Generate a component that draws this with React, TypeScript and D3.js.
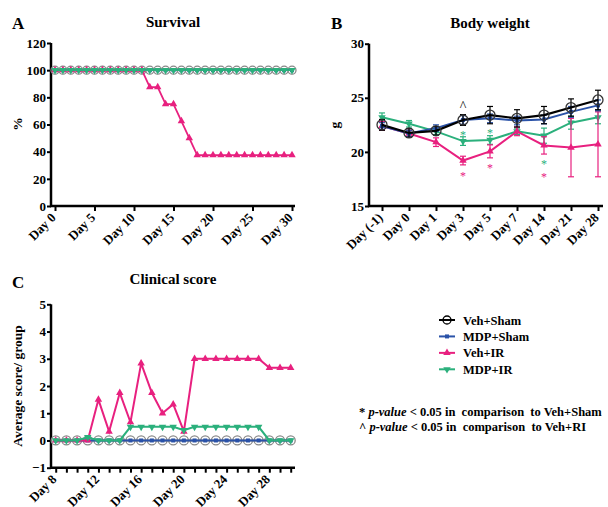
import React, { useEffect, useRef } from "react";
import * as d3 from "d3";

// ---- data ----
const seriesNames = ["Veh+Sham", "MDP+Sham", "Veh+IR", "MDP+IR"];
const seriesColors = ["#000000", "#2a52a8", "#e8207f", "#2bb07c"];
const seriesMarkers = ["circle", "square", "up", "down"];

// A: survival (%)
const survivalDays = [0, 1, 2, 3, 4, 5, 6, 7, 8, 9, 10, 11, 12, 13, 14, 15, 16, 17, 18, 19, 20, 21, 22, 23, 24, 25, 26, 27, 28, 29, 30];
const survivalVehSham = [100, 100, 100, 100, 100, 100, 100, 100, 100, 100, 100, 100, 100, 100, 100, 100, 100, 100, 100, 100, 100, 100, 100, 100, 100, 100, 100, 100, 100, 100, 100];
const survivalMdpSham = [100, 100, 100, 100, 100, 100, 100, 100, 100, 100, 100, 100, 100, 100, 100, 100, 100, 100, 100, 100, 100, 100, 100, 100, 100, 100, 100, 100, 100, 100, 100];
const survivalVehIR = [100, 100, 100, 100, 100, 100, 100, 100, 100, 100, 100, 100, 87.5, 87.5, 75, 75, 62.5, 50, 37.5, 37.5, 37.5, 37.5, 37.5, 37.5, 37.5, 37.5, 37.5, 37.5, 37.5, 37.5, 37.5];
const survivalMdpIR = [100, 100, 100, 100, 100, 100, 100, 100, 100, 100, 100, 100, 100, 100, 100, 100, 100, 100, 100, 100, 100, 100, 100, 100, 100, 100, 100, 100, 100, 100, 100];
const survivalTicks = [0, 5, 10, 15, 20, 25, 30];
const survivalYTicks = [0, 20, 40, 60, 80, 100, 120];

// B: body weight (g), mean and SD
const weightDays = ["Day (-1)", "Day 0", "Day 1", "Day 3", "Day 5", "Day 7", "Day 14", "Day 21", "Day 28"];
const weightVehSham = [22.5, 21.75, 21.95, 22.95, 23.4, 23.1, 23.4, 24.1, 24.8];
const weightVehShamSd = [0.5, 0.4, 0.4, 0.5, 0.8, 0.8, 0.8, 0.8, 0.9];
const weightMdpSham = [22.4, 21.7, 22.2, 22.95, 23.1, 22.9, 23.0, 23.7, 24.3];
const weightMdpShamSd = [0.3, 0.3, 0.3, 0.4, 0.4, 0.4, 0.4, 0.5, 0.5];
const weightVehIR = [22.4, 21.7, 20.9, 19.2, 20.05, 21.9, 20.6, 20.4, 20.7];
const weightVehIRSd = [0.4, 0.3, 0.4, 0.4, 0.6, 0.4, 0.8, 2.7, 3.0];
const weightMdpIR = [23.2, 22.6, 21.9, 21.0, 21.1, 21.9, 21.5, 22.7, 23.2];
const weightMdpIRSd = [0.4, 0.3, 0.3, 0.4, 0.4, 0.3, 0.7, 0.6, 0.6];
const weightTicks = [15, 20, 25, 30];
const weightNotes = [
  { day: "Day 3", value: 24.3, text: "^", color: "#000000" },
  { day: "Day 3", value: 21.8, text: "*", color: "#2bb07c" },
  { day: "Day 5", value: 22.0, text: "*", color: "#2bb07c" },
  { day: "Day 3", value: 18.0, text: "*", color: "#e8207f" },
  { day: "Day 5", value: 18.7, text: "*", color: "#e8207f" },
  { day: "Day 14", value: 19.1, text: "*", color: "#2bb07c" },
  { day: "Day 14", value: 17.95, text: "*", color: "#e8207f" },
];

// C: clinical score
const scoreDays = [8, 9, 10, 11, 12, 13, 14, 15, 16, 17, 18, 19, 20, 21, 22, 23, 24, 25, 26, 27, 28, 29, 30];
const scoreVehSham = [0, 0, 0, 0, 0, 0, 0, 0, 0, 0, 0, 0, 0, 0, 0, 0, 0, 0, 0, 0, 0, 0, 0];
const scoreMdpSham = [0, 0, 0, 0, 0, 0, 0, 0, 0, 0, 0, 0, 0, 0, 0, 0, 0, 0, 0, 0, 0, 0, 0];
const scoreVehIR = [0, 0, 0, 0, 1.5, 0.33, 1.75, 0.67, 2.83, 1.75, 1.0, 1.33, 0.33, 3, 3, 3, 3, 3, 3, 3, 2.67, 2.67, 2.67];
const scoreMdpIR = [0, 0, 0, 0.12, 0, 0, 0, 0.5, 0.5, 0.5, 0.5, 0.5, 0.375, 0.5, 0.5, 0.5, 0.5, 0.5, 0.5, 0.5, 0, 0, 0];
const scoreLabelDays = [8, 12, 16, 20, 24, 28];
const scoreTicks = [-1, 0, 1, 2, 3, 4, 5];

const FONT = "'Liberation Serif', 'Times New Roman', Times, serif";

function marker(g: any, kind: string, x: number, y: number, color: string, r: number) {
  if (kind === "circle") {
    g.append("circle").attr("cx", x).attr("cy", y).attr("r", r)
      .attr("fill", "none").attr("stroke", color).attr("stroke-width", 1.3);
  } else if (kind === "square") {
    g.append("rect").attr("x", x - 2).attr("y", y - 2).attr("width", 4).attr("height", 4).attr("fill", color);
  } else {
    const p = d3.symbol().type(d3.symbolTriangle).size(24)();
    g.append("path").attr("d", p).attr("fill", color)
      .attr("transform", `translate(${x},${y})${kind === "down" ? " rotate(180)" : ""}`);
  }
}

function styleAxis(g: any) {
  g.attr("font-family", null).attr("font-size", 13).attr("font-weight", "bold")
    .style("font-family", FONT);
  g.select(".domain").remove();
  g.selectAll(".tick line").attr("stroke", "#000").attr("stroke-width", 2);
  g.selectAll(".tick text").attr("fill", "#000");
}

function rotateLabels(g: any, size: number) {
  g.selectAll(".tick text")
    .attr("font-size", size)
    .attr("text-anchor", "end")
    .attr("x", -8)
    .attr("y", 5)
    .attr("dy", "0.35em")
    .attr("transform", "rotate(-45)");
}

function App() {
  const svgRef = useRef(null);

  useEffect(() => {
    const svg = d3.select(svgRef.current);
    svg.selectAll("*").remove();
    svg.style("font-family", FONT);

    const text = (x: number, y: number, s: string, size: number, anchor = "start") =>
      svg.append("text").attr("x", x).attr("y", y).attr("font-size", size)
        .attr("font-weight", "bold").attr("text-anchor", anchor).text(s);

    const axisLines = (x0: number, x1: number, y0: number, y1: number) => {
      svg.append("line").attr("x1", x0).attr("x2", x0).attr("y1", y0).attr("y2", y1)
        .attr("stroke", "#000").attr("stroke-width", 2.5);
      svg.append("line").attr("x1", x0 - 1).attr("x2", x1).attr("y1", y1).attr("y2", y1)
        .attr("stroke", "#000").attr("stroke-width", 2.5);
    };

    const rotLabel = (x: number, y: number, s: string) =>
      svg.append("text").attr("transform", `translate(${x},${y}) rotate(-90)`)
        .attr("text-anchor", "middle").attr("font-size", 13.5).attr("font-weight", "bold").text(s);

    // ---------- Panel A ----------
    {
      const x = d3.scaleLinear().domain([0, 30]).range([55, 292]);
      const y = d3.scaleLinear().domain([0, 120]).range([206, 43]);
      text(12, 29, "A", 17);
      text(173, 27, "Survival", 15, "middle");
      rotLabel(22, 124, "%");
      const gy = svg.append("g").attr("transform", "translate(51,0)")
        .call(d3.axisLeft(y).tickValues(survivalYTicks).tickFormat(d3.format("d")).tickSize(4).tickPadding(1).tickSizeOuter(0));
      styleAxis(gy);
      const gx = svg.append("g").attr("transform", "translate(0,206)")
        .call(d3.axisBottom(x).tickValues(survivalTicks).tickFormat((d: any) => `Day ${d}`).tickSize(5).tickSizeOuter(0));
      styleAxis(gx);
      rotateLabels(gx, 13);
      axisLines(51, 295, 43, 206);

      const data = [survivalVehSham, survivalMdpSham, survivalVehIR, survivalMdpIR];
      data.forEach((vals, i) => {
        const line = d3.line<number>().x((_, j) => x(survivalDays[j])).y((v) => y(v));
        svg.append("path").attr("d", line(vals)).attr("fill", "none")
          .attr("stroke", i === 0 ? "#888" : seriesColors[i]).attr("stroke-width", 1.8);
        const g = svg.append("g");
        vals.forEach((v, j) => marker(g, seriesMarkers[i], x(survivalDays[j]), y(v), i === 0 ? "#888" : seriesColors[i], 4));
      });
    }

    // ---------- Panel B ----------
    {
      const x = d3.scalePoint().domain(weightDays).range([382, 598]);
      const y = d3.scaleLinear().domain([15, 30]).range([206, 43.7]);
      text(331, 29, "B", 17);
      text(490, 28, "Body weight", 15, "middle");
      rotLabel(339, 125, "g");
      const gy = svg.append("g").attr("transform", "translate(369,0)")
        .call(d3.axisLeft(y).tickValues(weightTicks).tickFormat(d3.format("d")).tickSize(4).tickPadding(1).tickSizeOuter(0));
      styleAxis(gy);
      const gx = svg.append("g").attr("transform", "translate(0,206)")
        .call(d3.axisBottom(x).tickSize(5).tickSizeOuter(0));
      styleAxis(gx);
      rotateLabels(gx, 13);
      axisLines(369, 603, 43.7, 206);

      const means = [weightVehSham, weightMdpSham, weightVehIR, weightMdpIR];
      const sds = [weightVehShamSd, weightMdpShamSd, weightVehIRSd, weightMdpIRSd];
      [3, 2, 1, 0].forEach((i) => {
        const c = seriesColors[i];
        const g = svg.append("g");
        means[i].forEach((v, j) => {
          const cx = x(weightDays[j]) as number;
          const lo = y(v - sds[i][j]);
          const hi = y(v + sds[i][j]);
          g.append("line").attr("x1", cx).attr("x2", cx).attr("y1", lo).attr("y2", hi).attr("stroke", c).attr("stroke-width", 1.2);
          g.append("line").attr("x1", cx - 3).attr("x2", cx + 3).attr("y1", lo).attr("y2", lo).attr("stroke", c).attr("stroke-width", 1.2);
          g.append("line").attr("x1", cx - 3).attr("x2", cx + 3).attr("y1", hi).attr("y2", hi).attr("stroke", c).attr("stroke-width", 1.2);
        });
        const line = d3.line<number>().x((_, j) => x(weightDays[j]) as number).y((v) => y(v));
        g.append("path").attr("d", line(means[i])).attr("fill", "none").attr("stroke", c).attr("stroke-width", i === 0 ? 2.2 : 2);
        means[i].forEach((v, j) => marker(g, seriesMarkers[i], x(weightDays[j]) as number, y(v), i === 0 ? "#333" : c, 5));
      });

      weightNotes.forEach((n) => {
        svg.append("text").attr("x", x(n.day) as number).attr("y", y(n.value) + (n.text === "^" ? 6 : 6.5))
          .attr("text-anchor", "middle").attr("font-size", n.text === "^" ? 14 : 12)
          .attr("fill", n.color).text(n.text);
      });
    }

    // ---------- Panel C ----------
    {
      const x = d3.scaleLinear().domain([8, 30]).range([55.7, 290.7]);
      const y = d3.scaleLinear().domain([-1, 5]).range([467.7, 304.3]);
      text(12, 288, "C", 17);
      text(173, 284, "Clinical score", 15, "middle");
      rotLabel(22, 386, "Average score/ group");
      const gy = svg.append("g").attr("transform", "translate(51,0)")
        .call(d3.axisLeft(y).tickValues(scoreTicks).tickFormat(d3.format("d")).tickSize(4).tickPadding(1).tickSizeOuter(0));
      styleAxis(gy);
      const gx = svg.append("g").attr("transform", "translate(0,467.7)")
        .call(d3.axisBottom(x).tickValues(scoreDays)
          .tickFormat((d: any) => (scoreLabelDays.includes(d) ? `Day ${d}` : "")).tickSize(5).tickSizeOuter(0));
      styleAxis(gx);
      rotateLabels(gx, 13);
      axisLines(51, 295, 304.3, 467.7);

      const data = [scoreVehSham, scoreMdpSham, scoreVehIR, scoreMdpIR];
      data.forEach((vals, i) => {
        const line = d3.line<number>().x((_, j) => x(scoreDays[j])).y((v) => y(v));
        svg.append("path").attr("d", line(vals)).attr("fill", "none")
          .attr("stroke", i === 0 ? "#888" : seriesColors[i]).attr("stroke-width", 2);
        const g = svg.append("g");
        vals.forEach((v, j) => marker(g, seriesMarkers[i], x(scoreDays[j]), y(v), i === 0 ? "#888" : seriesColors[i], 4.5));
      });
    }

    // ---------- Legend ----------
    {
      const ly = d3.scalePoint().domain(seriesNames).range([320, 369.3]);
      seriesNames.forEach((name, i) => {
        const yy = ly(name) as number;
        const g = svg.append("g");
        g.append("line").attr("x1", 439).attr("x2", 455).attr("y1", yy).attr("y2", yy)
          .attr("stroke", seriesColors[i]).attr("stroke-width", 2);
        marker(g, seriesMarkers[i], 447, yy, seriesColors[i], 4);
        text(463, yy + 4.5, name, 12.5);
      });

      const note = (yy: number, sym: string, target: string) => {
        const t = svg.append("text").attr("x", 359).attr("y", yy).attr("font-size", 12.5)
          .attr("font-weight", "bold").attr("xml:space", "preserve");
        t.append("tspan").text(`${sym} `);
        t.append("tspan").attr("font-style", "italic").text("p-value");
        t.append("tspan").text(` < 0.05 in  comparison  to ${target}`);
      };
      note(416, "*", "Veh+Sham");
      note(431, "^", "Veh+RI");
    }
  }, []);

  return (
    <svg
      ref={svgRef}
      width={608}
      height={507}
      style={{ position: "absolute", left: 0, top: 0, display: "block", background: "#fff", fontFamily: FONT }}
    ></svg>
  );
}

export default App;
